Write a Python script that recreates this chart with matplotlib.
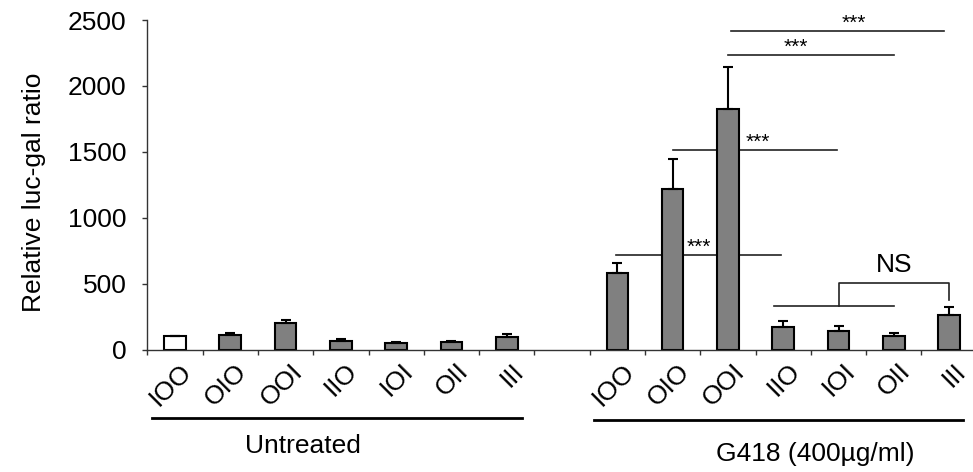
import matplotlib
matplotlib.use('Agg')
import matplotlib.pyplot as plt
import matplotlib.transforms as mtransforms
import numpy as np

plt.rcParams['font.family'] = ['Liberation Sans', 'DejaVu Sans']

# data
categories = ['IOO', 'OIO', 'OOI', 'IIO', 'IOI', 'OII', 'III']
untreated_mean = [100, 112, 198, 65, 47, 55, 93]
untreated_err = [3, 11, 29, 13, 8, 13, 22]
g418_mean = [582, 1218, 1828, 173, 140, 100, 261]
g418_err = [75, 224, 319, 45, 37, 22, 60]
group_names = ['Untreated', 'G418 (400\u00b5g/ml)']

# significance lines: (x_start, x_end, y, label, label_x)
sig_lines = [
    (10.05, 13.9, 2415, '***', 12.27),
    (10.0, 13.0, 2233, '***', 11.23),
    (9.0, 11.97, 1517, '***', 10.54),
    (7.97, 10.96, 718, '***', 9.48),
]
ns_low = (10.84, 13.0, 330)
ns_bracket = (12.0, 14.0, 506, 375)

x_left = np.arange(len(categories))
x_right = np.arange(len(categories)) + len(categories) + 1
bar_w = 0.39

fig = plt.figure(figsize=(9.73, 4.72), dpi=100)
ax = fig.add_axes([0.1514, 0.2595, 0.8525, 0.698])

left_colors = ['white'] + ['#808080'] * (len(categories) - 1)
ax.bar(x_left, untreated_mean, bar_w, color=left_colors, edgecolor='black',
       linewidth=1.5, zorder=2)
ax.bar(x_right, g418_mean, bar_w, color='#808080', edgecolor='black',
       linewidth=1.5, zorder=2)
ax.errorbar(x_left, untreated_mean, yerr=[np.zeros(7), untreated_err], fmt='none',
            ecolor='black', elinewidth=1.5, capsize=3.6, capthick=1.5, zorder=3)
ax.errorbar(x_right, g418_mean, yerr=[np.zeros(7), g418_err], fmt='none',
            ecolor='black', elinewidth=1.5, capsize=3.6, capthick=1.5, zorder=3)

# significance markers (drawn behind the bars)
for x1, x2, y, lab, lx in sig_lines:
    ax.plot([x1, x2], [y, y], color='#222222', lw=1.2, zorder=1)
    ax.annotate(lab, xy=(lx, y), xytext=(0, 1.5), textcoords='offset points',
                ha='center', va='baseline', fontsize=15)
ax.plot([ns_low[0], ns_low[1]], [ns_low[2], ns_low[2]], color='#222222', lw=1.2, zorder=1)
bx1, bx2, btop, bend = ns_bracket
ax.plot([bx1, bx1, bx2, bx2], [ns_low[2], btop, btop, bend], color='#222222', lw=1.2, zorder=1)
ax.text((bx1 + bx2) / 2, btop + 45, 'NS', ha='center', va='bottom', fontsize=19)

ax.set_xlim(-0.5, 14.5)
ax.set_ylim(0, 2500)
ax.set_yticks(np.arange(0, 2501, 500))

ax.spines['top'].set_visible(False)
ax.spines['right'].set_visible(False)
for s in ['left', 'bottom']:
    ax.spines[s].set_color('#333333')
    ax.spines[s].set_linewidth(1.0)

ax.tick_params(axis='y', length=3.6, width=1.0, color='#333333', pad=11.5, labelsize=19)
ax.set_xticks(np.arange(16) - 0.5)
ax.set_xticklabels([])
ax.tick_params(axis='x', which='major', length=3.6, width=1.0, color='#333333')

centers = np.concatenate([x_left, x_right])
ax.set_xticks(centers, categories * 2, minor=True)
ax.tick_params(axis='x', which='minor', length=0, pad=13, labelsize=19)
shift = mtransforms.ScaledTranslation(0.13, 0, fig.dpi_scale_trans)
for lab in ax.get_xticklabels(minor=True):
    lab.set_rotation(45)
    lab.set_rotation_mode('anchor')
    lab.set_ha('right')
    lab.set_va('center')
    lab.set_transform(lab.get_transform() + shift)

ax.set_ylabel('Relative luc-gal ratio', fontsize=19)
ax.yaxis.set_label_coords(-0.1218, 0.477)

# group underlines and labels
trans = mtransforms.blended_transform_factory(ax.transData, ax.transAxes)
ax.plot([-0.41, 6.27], [-0.2088, -0.2088], color='black', lw=2, transform=trans, clip_on=False)
ax.plot([7.57, 14.25], [-0.214, -0.214], color='black', lw=2, transform=trans, clip_on=False)
ax.text(2.32, -0.3141, group_names[0], ha='center', va='baseline', fontsize=19, transform=trans)
ax.text(11.57, -0.3384, group_names[1], ha='center', va='baseline', fontsize=19, transform=trans)

fig.savefig('out.png', dpi=100)
